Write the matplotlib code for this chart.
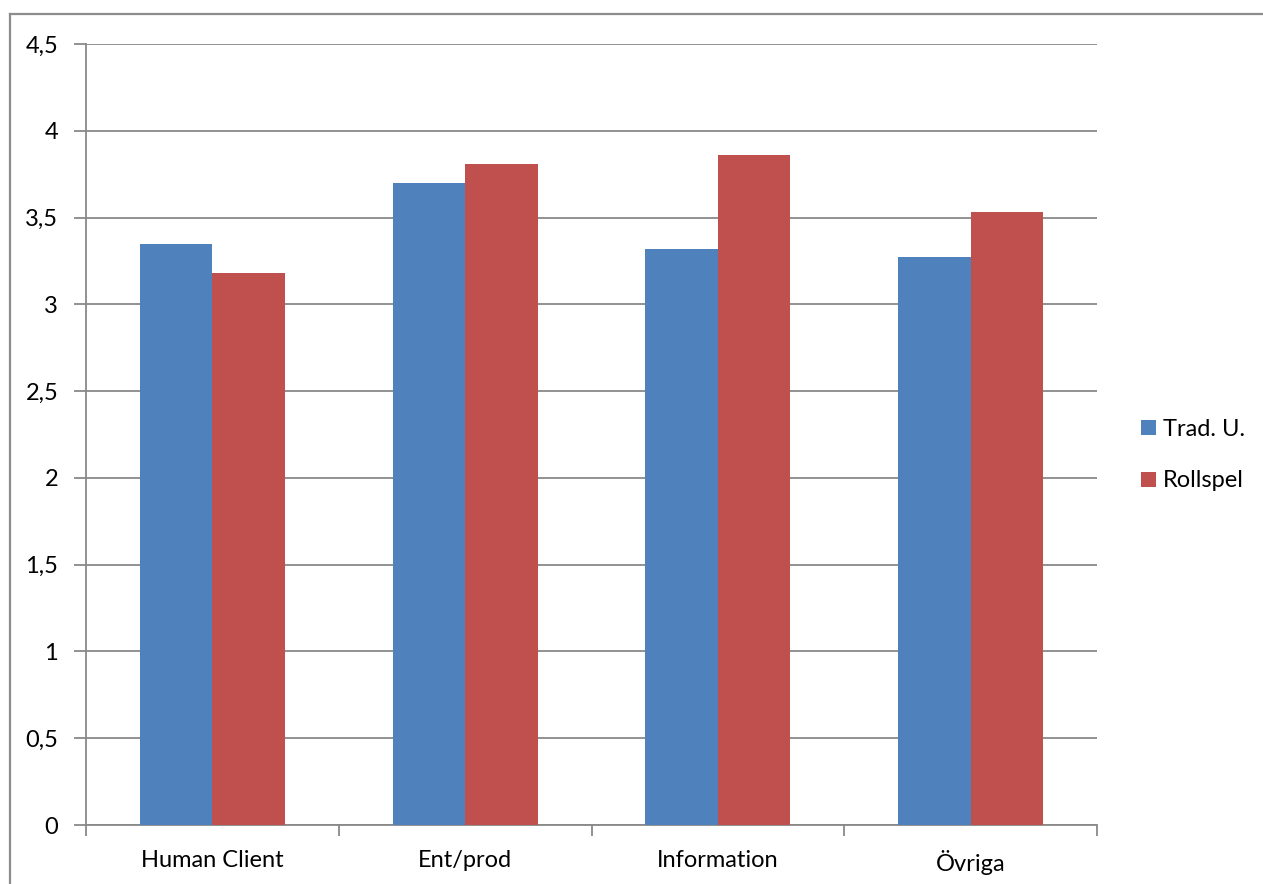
import matplotlib
matplotlib.use("Agg")
import matplotlib.pyplot as plt
from matplotlib.lines import Line2D
from matplotlib.patches import Patch
import numpy as np

categories = ["Human Client", "Ent/prod", "Information", "Övriga"]
trad_u = [3.35, 3.70, 3.32, 3.27]
rollspel = [3.18, 3.81, 3.86, 3.53]
series_names = ["Trad. U.", "Rollspel"]
y_ticks = [0, 0.5, 1, 1.5, 2, 2.5, 3, 3.5, 4, 4.5]
y_labels = ["0", "0,5", "1", "1,5", "2", "2,5", "3", "3,5", "4", "4,5"]

BLUE = "#4F81BD"
RED = "#C0504D"
GRID = "#898989"
FS = 17

plt.rcParams["font.family"] = ["Lato", "DejaVu Sans"]

W, H = 1263, 884
fig = plt.figure(figsize=(W / 100, H / 100), dpi=100)
fig.patch.set_facecolor("white")

# outer chart frame (top and left edges visible)
fig.add_artist(Line2D([10 / W, 10 / W], [0, 1 - 14 / H], transform=fig.transFigure,
                      color="#8c8c8c", lw=1.6))
fig.add_artist(Line2D([10 / W, 1], [1 - 14 / H, 1 - 14 / H], transform=fig.transFigure,
                      color="#8c8c8c", lw=1.6))

left, right, top, bottom = 86, 1097, 44, 825
ax = fig.add_axes([left / W, 1 - bottom / H, (right - left) / W, (bottom - top) / H])

x = np.arange(len(categories))
bw = 0.287
ax.bar(x - bw / 2, trad_u, width=bw, color=BLUE, zorder=3, label=series_names[0])
ax.bar(x + bw / 2, rollspel, width=bw, color=RED, zorder=3, label=series_names[1])

ax.set_xlim(-0.5, len(categories) - 0.5)
ax.set_ylim(0, 4.5)
ax.set_yticks(y_ticks)
ax.set_yticklabels(y_labels)
ax.yaxis.grid(True, color=GRID, lw=1.3, zorder=0)
ax.set_axisbelow(True)

for s in ["top", "right"]:
    ax.spines[s].set_visible(False)
for s in ["left", "bottom"]:
    ax.spines[s].set_color(GRID)
    ax.spines[s].set_linewidth(1.3)

ax.tick_params(axis="y", length=9, width=1.3, color=GRID, labelsize=FS, pad=11)
ax.set_xticks(x)
ax.set_xticklabels(categories)
ax.tick_params(axis="x", which="major", length=0, labelsize=FS, pad=18)
ax.set_xticks(np.arange(len(categories) + 1) - 0.5, minor=True)
ax.tick_params(axis="x", which="minor", length=8, width=1.3, color=GRID)

handles = [Patch(facecolor=BLUE, label=series_names[0]),
           Patch(facecolor=RED, label=series_names[1])]
fig.legend(handles=handles, loc="center left",
           bbox_to_anchor=(1132 / W, 1 - 455 / H), frameon=False,
           fontsize=FS, handlelength=0.6, handleheight=0.6,
           handletextpad=0.3, labelspacing=1.3, borderaxespad=0)

fig.savefig("out.png", dpi=100, facecolor="white")
